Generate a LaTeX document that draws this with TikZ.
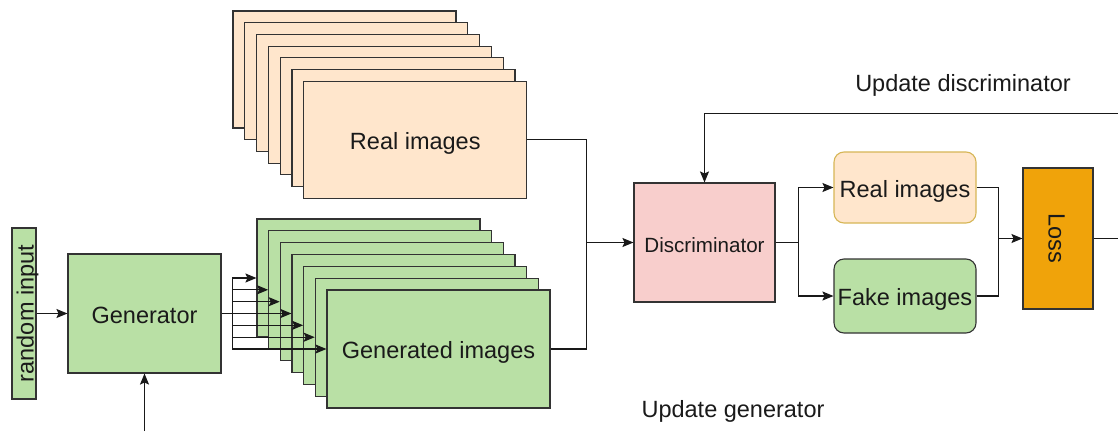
\documentclass[tikz,border=0pt]{standalone}
\usepackage{fontspec}
\setmainfont{Liberation Sans}
\usepackage{xcolor}
\definecolor{ganGreen}{HTML}{B9E0A5}
\definecolor{ganPeach}{HTML}{FFE6CC}
\definecolor{ganPink}{HTML}{F8CECC}
\definecolor{ganOrange}{HTML}{F0A30A}
\definecolor{ganGold}{HTML}{D6B656}
\definecolor{ganStroke}{HTML}{333333}
\definecolor{ganText}{HTML}{1A1A1A}
\usetikzlibrary{arrows.meta}

\begin{document}
\begin{tikzpicture}[x=1pt, y=-1pt, line width=1.1pt,
  every node/.style={font=\fontsize{23.5}{28}\selectfont, text=ganText, inner sep=0pt,
    text height=19pt, text depth=0pt},
  box/.style={draw=ganStroke, rectangle},
  realimg/.style={box, fill=ganPeach, minimum width=223pt, minimum height=117pt},
  genimg/.style={box, fill=ganGreen, minimum width=223pt, minimum height=118pt},
  roundbox/.style={rectangle, rounded corners=10pt, minimum width=142pt},
  wire/.style={draw=black!90, line width=1.1pt},
  arrow/.style={wire, -{Stealth[length=11pt, width=9pt, inset=2pt]}}]
  \useasboundingbox[fill=white] (0,0) rectangle (1118,431);
  \node[box, fill=ganGreen, minimum width=24pt, minimum height=171pt] (rand) at (24,313.5) {};
  \node[rotate=90] at (rand.center) {random input};
  \node[box, fill=ganGreen, minimum width=153pt, minimum height=119pt] (gen) at (144.5,313.5) {Generator};
  \node[realimg] (r0) at (344.5,69.5) {};
  \node[realimg] (r1) at (356.3,81.2) {};
  \node[realimg] (r2) at (368.1,92.9) {};
  \node[realimg] (r3) at (379.9,104.6) {};
  \node[realimg] (r4) at (391.7,116.3) {};
  \node[realimg] (r5) at (403.5,128.0) {};
  \node[realimg] (r6) at (415.3,139.7) {Real images};
  \node[genimg] (g0) at (368.5,278.0) {};
  \node[genimg] (g1) at (380.2,289.8) {};
  \node[genimg] (g2) at (391.8,301.7) {};
  \node[genimg] (g3) at (403.5,313.5) {};
  \node[genimg] (g4) at (415.2,325.3) {};
  \node[genimg] (g5) at (426.8,337.2) {};
  \node[genimg] (g6) at (438.5,349.0) {Generated images};
  \node[box, fill=ganPink, minimum width=141pt, minimum height=119pt,
    font=\fontsize{20.6}{24}\selectfont] (disc) at (704.5,242.5) {Discriminator};
  \node[roundbox, draw=ganGold, fill=ganPeach, minimum height=71pt] (realbox) at (905,187.5) {Real images};
  \node[roundbox, draw=ganStroke, fill=ganGreen, minimum height=74pt] (fakebox) at (905,296) {Fake images};
  \node[box, fill=ganOrange, minimum width=70pt, minimum height=141pt] (loss) at (1058,238.5) {};
  \node[rotate=-90] at (loss.center) {Loss};
  \node (upddisc) at (963,82) {Update discriminator};
  \node (updgen) at (733,408) {Update generator};
  \coordinate (noise) at (144.5,431);
  \coordinate (bus) at (232.5,313.5);
  \coordinate (join) at (586.5,242.5);
  \coordinate (split) at (798.5,242.5);
  \coordinate (merge) at (998.5,238.5);
  \coordinate (lossout) at (1118,238.5);
  \coordinate (feedback) at (1118,113.5);
  \draw[arrow] (rand) -- (gen);
  \draw[arrow] (noise) -- (gen);
  \draw[wire] (gen.east) -- (bus);
  \draw[arrow] (bus) |- (g0.west);
  \draw[arrow] (bus) |- (g1.west);
  \draw[arrow] (bus) |- (g2.west);
  \draw[arrow] (bus) |- (g3.west);
  \draw[arrow] (bus) |- (g4.west);
  \draw[arrow] (bus) |- (g5.west);
  \draw[arrow] (bus) |- (g6.west);
  \draw[wire] (r6.east) -| (join);
  \draw[wire] (g6.east) -| (join);
  \draw[arrow] (join) -- (disc);
  \draw[wire] (disc) -- (split);
  \draw[arrow] (split) |- (realbox);
  \draw[arrow] (split) |- (fakebox);
  \draw[wire] (realbox) -| (merge);
  \draw[wire] (fakebox) -| (merge);
  \draw[arrow] (merge) -- (loss);
  \draw[wire] (loss) -- (lossout);
  \draw[arrow] (feedback) -| (disc.north);
\end{tikzpicture}
\end{document}
